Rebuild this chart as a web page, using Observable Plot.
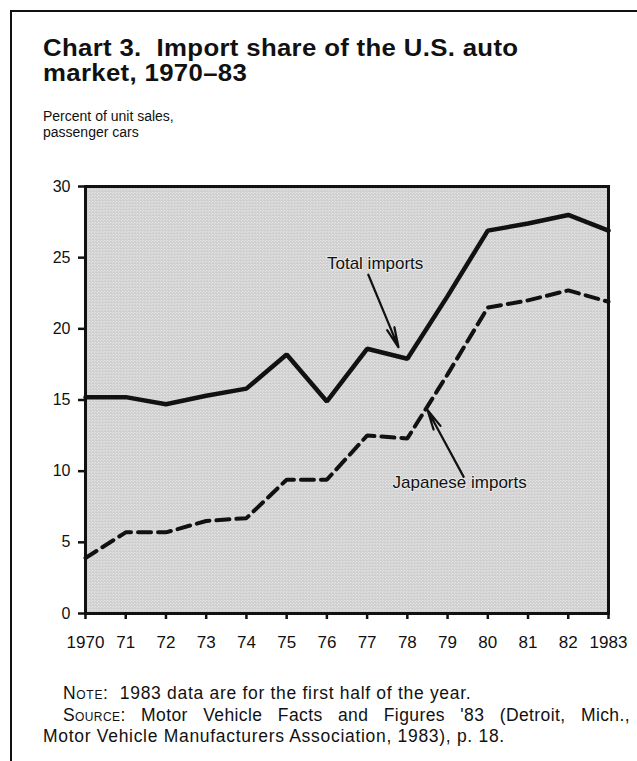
<!DOCTYPE html>
<html>
<head>
<meta charset="utf-8">
<script src="https://cdn.jsdelivr.net/npm/d3@7"></script>
<script src="https://cdn.jsdelivr.net/npm/@observablehq/plot@0.6"></script>
<style>
  body { margin: 0; background: #fff; }
  #page { position: relative; width: 637px; height: 761px; overflow: hidden;
          font-family: "Liberation Sans", Arial, Helvetica, sans-serif; color: #111; }
  #border { position: absolute; left: 10px; top: 10px; width: 640px; height: 760px;
            border-top: 2.5px solid #111; border-left: 2.5px solid #111; }
  .title { position: absolute; left: 43px; font-size: 23px; font-weight: bold;
           line-height: 26px; letter-spacing: 0.3px; white-space: nowrap;
           transform: scaleX(1.12); transform-origin: 0 0; }
  #title1 { top: 35px; }
  #title2 { top: 60px; }
  #subtitle { position: absolute; left: 43px; top: 109px; font-size: 14px; line-height: 15.5px;
              white-space: nowrap; }
  #chart { position: absolute; left: 0; top: 170px; }
  .note { position: absolute; font-size: 17.5px; line-height: 21.5px; letter-spacing: 0.7px; white-space: nowrap; }
  .sc { font-variant: small-caps; }
  #note1 { left: 63px; top: 683px; }
  #note2 { left: 63px; top: 705px; width: 567px; text-align: justify; text-align-last: justify; white-space: normal; letter-spacing: 0.4px; }
  #note3 { left: 43px; top: 726px; }
</style>
</head>
<body>
<svg width="0" height="0" style="position:absolute">
  <defs>
    <pattern id="halftone" width="3" height="3" patternUnits="userSpaceOnUse">
      <rect width="3" height="3" fill="#f0f0f0"></rect>
      <circle cx="0.75" cy="0.75" r="0.6" fill="#6a6a6a"></circle>
      <circle cx="2.25" cy="2.25" r="0.6" fill="#6a6a6a"></circle>
    </pattern>
  </defs>
</svg>
<div id="page">
  <div id="border"></div>
  <div class="title" id="title1">Chart 3.&nbsp; Import share of the U.S. auto</div>
  <div class="title" id="title2">market, 1970–83</div>
  <div id="subtitle">Percent of unit sales,<br>passenger cars</div>
  <div id="chart"></div>
  <div class="note" id="note1"><span class="sc">Note</span>:&nbsp; 1983 data are for the first half of the year.</div>
  <div class="note" id="note2"><span class="sc">Source</span>: Motor Vehicle Facts and Figures '83 (Detroit, Mich.,</div>
  <div class="note" id="note3">Motor Vehicle Manufacturers Association, 1983), p. 18.</div>
</div>
<script>
const years = [1970, 1971, 1972, 1973, 1974, 1975, 1976, 1977, 1978, 1979, 1980, 1981, 1982, 1983];
const totalImports = [15.2, 15.2, 14.7, 15.3, 15.8, 18.2, 14.9, 18.6, 17.9, 22.3, 26.9, 27.4, 28.0, 26.9];
const japaneseImports = [3.9, 5.7, 5.7, 6.5, 6.7, 9.4, 9.4, 12.5, 12.3, 16.8, 21.5, 22.0, 22.7, 21.9];
const xTickLabels = ["1970", "71", "72", "73", "74", "75", "76", "77", "78", "79", "80", "81", "82", "1983"];
const yTicks = [0, 5, 10, 15, 20, 25, 30];

const annotationLabels = ["Total imports", "Japanese imports"];
const annotationX = [1977.2, 1979.3];
const annotationY = [24.6, 9.2];
const arrowFromX = [1977.03, 1979.40];
const arrowFromY = [23.8, 9.6];
const arrowToX = [1977.78, 1978.50];
const arrowToY = [18.7, 14.3];

const data = years.map((year, i) => ({year, total: totalImports[i], japanese: japaneseImports[i]}));
const notes = annotationLabels.map((label, i) => ({label, x: annotationX[i], y: annotationY[i]}));
const arrows = annotationLabels.map((label, i) => ({x1: arrowFromX[i], y1: arrowFromY[i], x2: arrowToX[i], y2: arrowToY[i]}));

const chart = Plot.plot({
  width: 637,
  height: 490,
  marginLeft: 85,
  marginRight: 29,
  marginTop: 16,
  marginBottom: 47,
  style: {fontFamily: '"Liberation Sans", Arial, Helvetica, sans-serif', fontSize: "16px", color: "#111", background: "transparent", overflow: "visible"},
  x: {domain: [1970, 1983], label: null},
  y: {domain: [0, 30], label: null},
  marks: [
    Plot.frame({fill: "url(#halftone)", stroke: null}),
    Plot.line(data, {x: "year", y: "total", stroke: "#111", strokeWidth: 4.5, strokeLinejoin: "miter"}),
    Plot.line(data, {x: "year", y: "japanese", stroke: "#111", strokeWidth: 4, strokeDasharray: "13,7", strokeLinejoin: "miter"}),
    Plot.text(notes, {x: "x", y: "y", text: "label", fontSize: 17, fill: "#111", stroke: "#e8e8e8", strokeWidth: 2, paintOrder: "stroke"}),
    Plot.arrow(arrows, {x1: "x1", y1: "y1", x2: "x2", y2: "y2", stroke: "#111", strokeWidth: 2.2, headLength: 14, headAngle: 22}),
    Plot.frame({stroke: "#111", strokeWidth: 3}),
    Plot.axisX({ticks: years, tickFormat: d => xTickLabels[years.indexOf(d)], tickSize: 6, tickPadding: 16, fontSize: 17, strokeWidth: 2.5, label: null}),
    Plot.axisY({ticks: yTicks, tickSize: 7, tickPadding: 8, fontSize: 16, strokeWidth: 2.5, label: null})
  ]
});
document.getElementById("chart").appendChild(chart);
</script>
</body>
</html>
